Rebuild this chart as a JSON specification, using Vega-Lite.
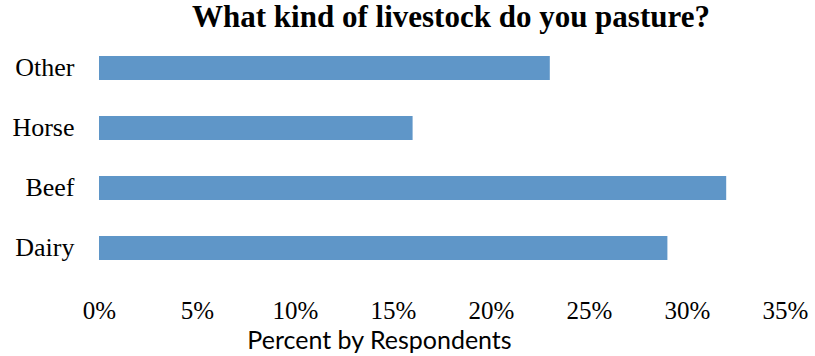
{
  "$schema": "https://vega.github.io/schema/vega-lite/v6.json",
  "autosize": {"type": "none"},
  "width": 686,
  "height": 240,
  "padding": {"left": 99, "top": 38, "right": 30, "bottom": 78},
  "background": "white",
  "title": {
    "text": "What kind of livestock do you pasture?",
    "font": "Liberation Serif",
    "fontSize": 31,
    "fontWeight": "bold",
    "color": "black",
    "anchor": "middle",
    "dx": 9,
    "offset": 4
  },
  "data": {
    "values": [
      {"type": "Other", "pct": 0.23},
      {"type": "Horse", "pct": 0.16},
      {"type": "Beef", "pct": 0.32},
      {"type": "Dairy", "pct": 0.29}
    ]
  },
  "mark": {"type": "bar", "color": "#5f96c8"},
  "encoding": {
    "y": {
      "field": "type",
      "type": "nominal",
      "sort": null,
      "scale": {"paddingInner": 0.6, "paddingOuter": 0.3},
      "axis": {
        "title": null,
        "domain": false,
        "ticks": false,
        "labelPadding": 25,
        "labelFont": "Liberation Serif",
        "labelFontSize": 26,
        "labelColor": "black"
      }
    },
    "x": {
      "field": "pct",
      "type": "quantitative",
      "scale": {"domain": [0, 0.35], "nice": false},
      "axis": {
        "values": [0, 0.05, 0.1, 0.15, 0.2, 0.25, 0.3, 0.35],
        "format": "0%",
        "grid": false,
        "domain": false,
        "ticks": false,
        "labelPadding": 20,
        "labelFont": "Liberation Serif",
        "labelFontSize": 25,
        "labelColor": "black",
        "labelFlush": false,
        "title": "Percent by Respondents",
        "titleFont": "Lato",
        "titleFontSize": 25,
        "titleFontWeight": "normal",
        "titleColor": "black",
        "titleX": 280,
        "titleY": 50,
        "titleAlign": "center",
        "titleBaseline": "top"
      }
    }
  },
  "config": {"view": {"stroke": null}}
}
